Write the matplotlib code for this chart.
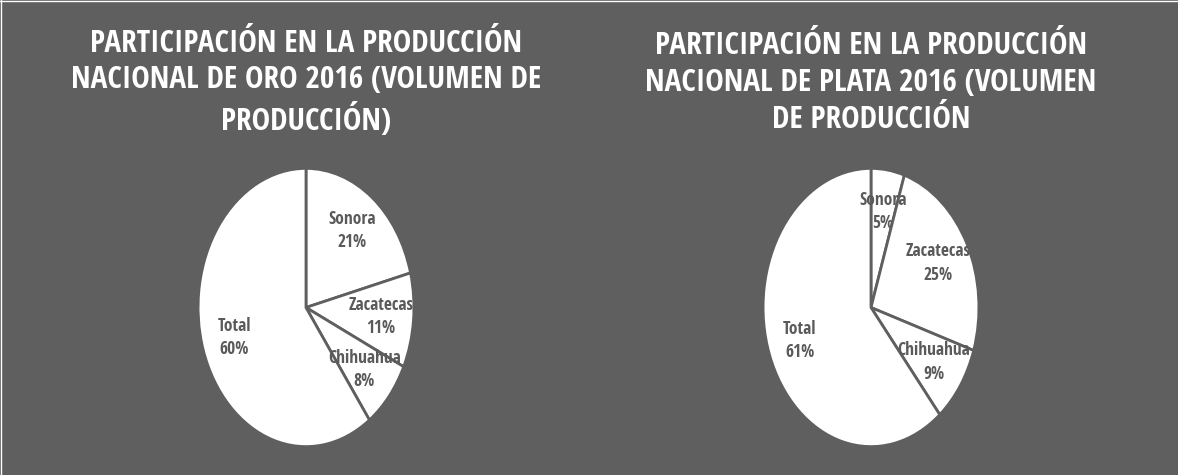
import matplotlib
matplotlib.use("Agg")
import matplotlib.pyplot as plt

COND = ["Open Sans Condensed", "DejaVu Sans"]

BG = "#5f5f5f"
EDGE = "#5f5f5f"
LABEL = "#5a5a5a"

categories = ["Sonora", "Zacatecas", "Chihuahua", "Total"]
oro_values = [21, 11, 8, 60]
plata_values = [5, 25, 9, 61]
title_oro = "PARTICIPACIÓN EN LA PRODUCCIÓN\nNACIONAL DE ORO 2016 (VOLUMEN DE\nPRODUCCIÓN)"
title_plata = "PARTICIPACIÓN EN LA PRODUCCIÓN\nNACIONAL DE PLATA 2016 (VOLUMEN\nDE PRODUCCIÓN"

W, H = 1178, 475
fig = plt.figure(figsize=(W / 100, H / 100), dpi=100, facecolor=BG)


def draw(values, title, cx):
    ax = fig.add_axes([(cx - 109) / W, (H - 448) / H, 218 / W, 281 / H])
    ax.set_facecolor(BG)
    labels = [f"{c}\n{v}%" for c, v in zip(categories, values)]
    wedges, texts = ax.pie(values, labels=labels, startangle=90, counterclock=False,
                           colors=["white"] * len(values), labeldistance=0.7,
                           wedgeprops=dict(edgecolor=EDGE, linewidth=2.0),
                           textprops=dict(color=LABEL, fontsize=12.5, fontweight="bold",
                                          family=COND, ha="center", va="center",
                                          linespacing=1.4))
    ax.set_xlim(-1.01, 1.01)
    ax.set_ylim(-1.01, 1.01)
    ax.set_aspect("auto")
    ax.axis("off")
    fig.text(cx / W, 1 - 83 / H, title, ha="center", va="center", color="white",
             fontsize=22.5, fontweight="bold", family=COND, linespacing=1.29)


draw(oro_values, title_oro, 306)
draw(plata_values, title_plata, 871)

fig.add_artist(plt.Line2D([0.5 / W, 0.5 / W], [0, 1], color="white", lw=1, transform=fig.transFigure))
fig.add_artist(plt.Line2D([0, 1], [1 - 0.5 / H, 1 - 0.5 / H], color="white", lw=1, transform=fig.transFigure))

fig.savefig("out.png", dpi=100, facecolor=BG)
